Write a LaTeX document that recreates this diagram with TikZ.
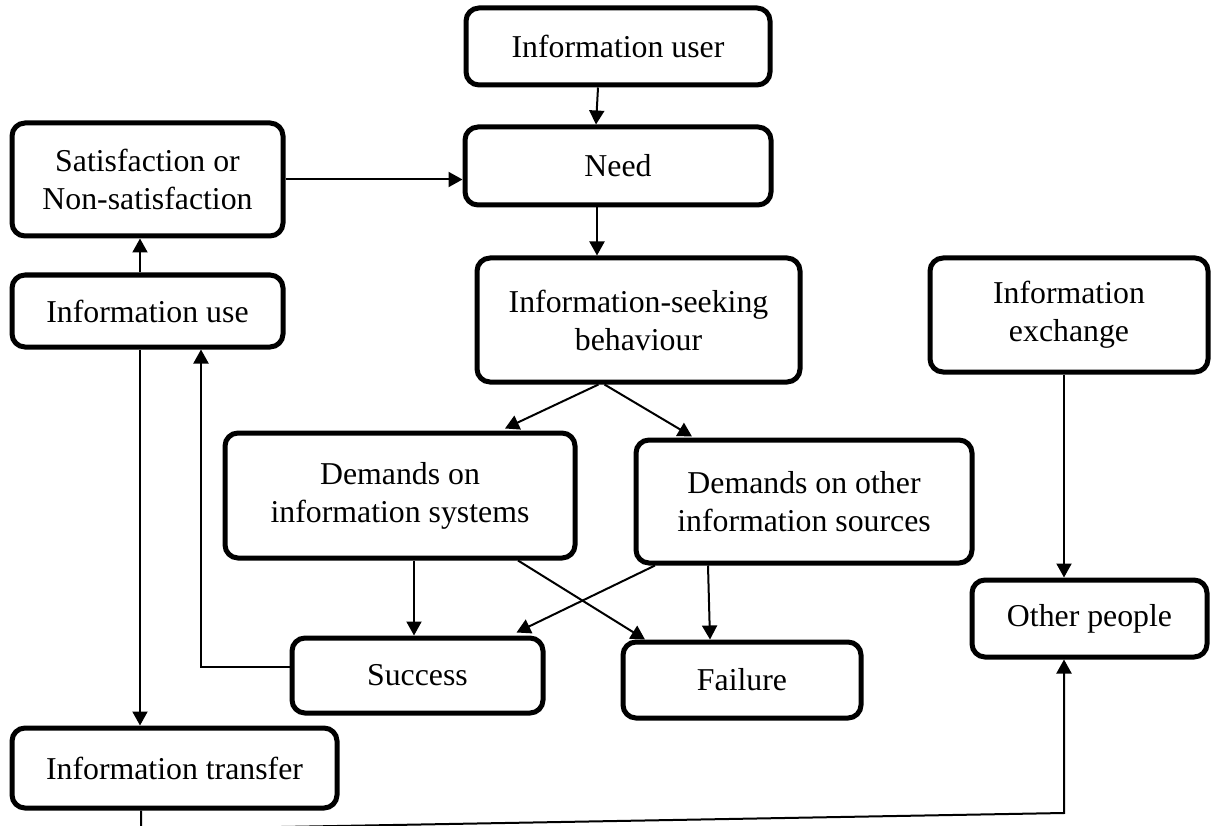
\documentclass[tikz,border=0pt]{standalone}
\usepackage{fontspec}
\setmainfont{Liberation Serif}
\usetikzlibrary{arrows.meta}
\begin{document}
\begin{tikzpicture}[x=1pt,y=-1pt,
  box/.style={draw,line width=5pt,rounded corners=13pt,align=center,inner sep=0pt,
    font=\fontsize{31.8}{38}\selectfont},
  arr/.style={line width=2pt,-{Triangle[length=14pt,width=15pt]}},
  ln/.style={line width=2pt}]
\useasboundingbox (0,0) rectangle (1212,826);
\clip (0,0) rectangle (1212,826);
\node[box,minimum width=304pt,minimum height=77pt] (user) at (618,46.5) {Information user};
\node[box,minimum width=306pt,minimum height=78pt] (need) at (618,166) {Need};
\node[box,minimum width=271pt,minimum height=113pt] (sat) at (147.5,179.5) {Satisfaction or\\Non-satisfaction};
\node[box,minimum width=271pt,minimum height=72pt] (use) at (147.5,311) {Information use};
\node[box,minimum width=323pt,minimum height=124pt] (isb) at (638.5,320) {Information-seeking\\behaviour};
\node[box,minimum width=278pt,minimum height=114pt] (exch) at (1069,315) {Information\\exchange};
\node[box,minimum width=350pt,minimum height=125pt] (dsys) at (400,495.5) {Demands on\\information systems};
\node[box,minimum width=336pt,minimum height=123pt] (doth) at (804,501.5) {Demands on other\\information sources};
\node[box,minimum width=251pt,minimum height=75pt] (succ) at (417.5,675.5) {Success};
\node[box,minimum width=238pt,minimum height=76pt] (fail) at (742,680) {Failure};
\node[box,minimum width=235pt,minimum height=77pt] (other) at (1089.5,618.5) {Other people};
\node[box,minimum width=325pt,minimum height=80pt] (trans) at (174.5,768) {Information transfer};
\coordinate (c1) at (141,829.5);
\coordinate (c2) at (1064,813);
\draw[arr] ([xshift=-20pt]user.south) -- ([xshift=-22pt]need.north);
\draw[arr] (sat.east) -- (sat.east -| need.west);
\draw[arr] ([xshift=-7.5pt]use.north) -- ([xshift=-7.5pt]sat.south);
\draw[arr] ([xshift=-21pt]need.south) -- ([xshift=-21pt]need.south |- isb.north);
\draw[arr] ([xshift=-40pt]isb.south) -- ([xshift=105pt,yshift=2pt]dsys.north);
\draw[arr] ([xshift=-34pt]isb.south) -- ([xshift=-112pt,yshift=1pt]doth.north);
\draw[arr] ([xshift=14pt]dsys.south) -- ([xshift=14pt]dsys.south |- succ.north);
\draw[arr] ([xshift=118pt]dsys.south) -- ([xshift=-97pt]fail.north);
\draw[arr] ([xshift=-149pt]doth.south) -- ([xshift=99pt,yshift=3pt]succ.north);
\draw[arr] ([xshift=-96pt]doth.south) -- ([xshift=-32pt]fail.north);
\draw[arr] ([yshift=8.5pt]succ.west) -| ([xshift=53.5pt]use.south);
\draw[arr] ([xshift=-7.5pt]use.south) -- ([xshift=-7.5pt]use.south |- trans.north);
\draw[arr] ([xshift=-5pt]exch.south) -- ([xshift=-5pt]exch.south |- other.north);
\draw[arr] ([xshift=-33.5pt]trans.south) -- (c1) -- (c2) -- ([xshift=-25.5pt]other.south);
\end{tikzpicture}
\end{document}
